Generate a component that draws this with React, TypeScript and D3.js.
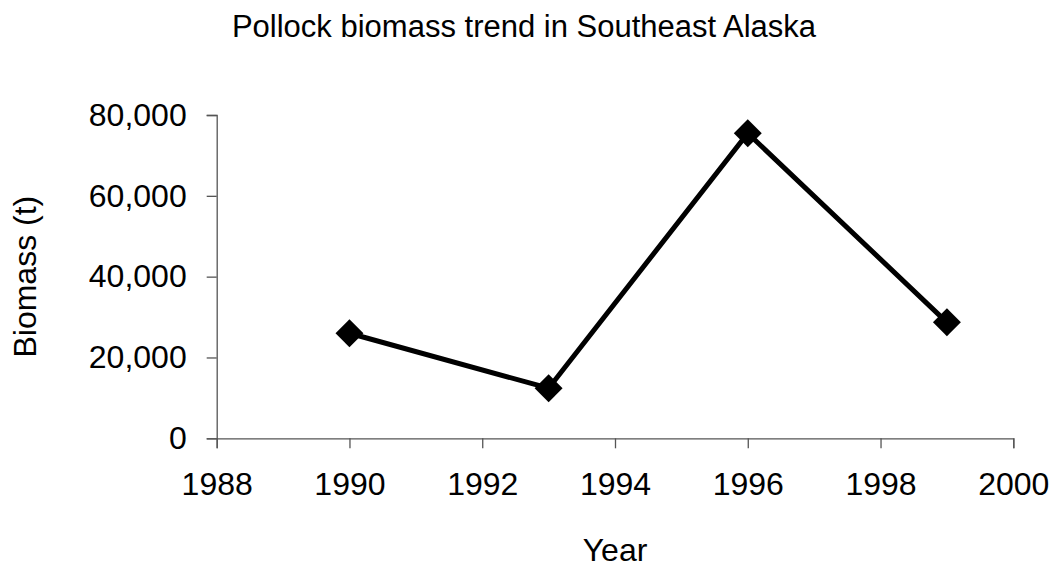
import React, { useRef, useEffect } from "react";
import * as d3 from "d3";

const years = [1990, 1993, 1996, 1999];
const biomass = [26000, 12400, 75500, 28700];
const xTicks = [1988, 1990, 1992, 1994, 1996, 1998, 2000];
const yTicks = [0, 20000, 40000, 60000, 80000];

const title = "Pollock biomass trend in Southeast Alaska";
const xTitle = "Year";
const yTitle = "Biomass (t)";

const App = () => {
  const ref = useRef(null);
  const width = 1054;
  const height = 569;

  useEffect(() => {
    const svg = d3.select(ref.current);
    svg.selectAll("*").remove();

    const x = d3.scaleLinear().domain([1988, 2000]).range([216.7, 1013.3]);
    const y = d3.scaleLinear().domain([0, 80000]).range([438.3, 115]);
    const fmt = d3.format(",");
    const font = "'Liberation Sans', Arial, sans-serif";
    const axisColor = "#555";

    // x axis
    const gx = svg
      .append("g")
      .attr("transform", `translate(0,${y(0)})`)
      .call(d3.axisBottom(x).tickValues(xTicks).tickFormat(d3.format("d")).tickSize(10).tickPadding(24));
    gx.select(".domain").attr("stroke", axisColor).attr("stroke-width", 1.3);
    gx.selectAll(".tick line").attr("stroke", axisColor).attr("stroke-width", 1.3);
    gx.selectAll("text").attr("font-family", font).attr("font-size", 32).attr("fill", "#000");

    // y axis
    const gy = svg
      .append("g")
      .attr("transform", `translate(${x(1988)},0)`)
      .call(d3.axisLeft(y).tickValues(yTicks).tickFormat(fmt).tickSize(10).tickPadding(20));
    gy.select(".domain").attr("stroke", axisColor).attr("stroke-width", 1.3);
    gy.selectAll(".tick line").attr("stroke", axisColor).attr("stroke-width", 1.3);
    gy.selectAll("text").attr("font-family", font).attr("font-size", 32).attr("fill", "#000");

    const data = years.map((d, i) => ({ year: d, value: biomass[i] }));

    const line = d3
      .line()
      .x(d => x(d.year))
      .y(d => y(d.value));

    svg
      .append("path")
      .datum(data)
      .attr("d", line)
      .attr("fill", "none")
      .attr("stroke", "#000")
      .attr("stroke-width", 5);

    const diamond = d3.symbol().type(d3.symbolSquare).size(390);
    svg
      .selectAll("path.marker")
      .data(data)
      .enter()
      .append("path")
      .attr("class", "marker")
      .attr("d", diamond)
      .attr("transform", d => `translate(${x(d.year)},${y(d.value)}) rotate(45)`)
      .attr("fill", "#000");

    svg
      .append("text")
      .attr("x", 524)
      .attr("y", 37)
      .attr("text-anchor", "middle")
      .attr("font-family", font)
      .attr("font-size", 31)
      .text(title);

    svg
      .append("text")
      .attr("x", (x(1988) + x(2000)) / 2)
      .attr("y", 561)
      .attr("text-anchor", "middle")
      .attr("font-family", font)
      .attr("font-size", 32)
      .text(xTitle);

    svg
      .append("text")
      .attr("transform", `translate(36,${(y(0) + y(80000)) / 2}) rotate(-90)`)
      .attr("text-anchor", "middle")
      .attr("font-family", font)
      .attr("font-size", 32)
      .text(yTitle);
  }, []);

  return (
    <svg
      ref={ref}
      width={width}
      height={height}
      style={{ position: "absolute", left: 0, top: 0, background: "#fff" }}
    />
  );
};

export default App;
